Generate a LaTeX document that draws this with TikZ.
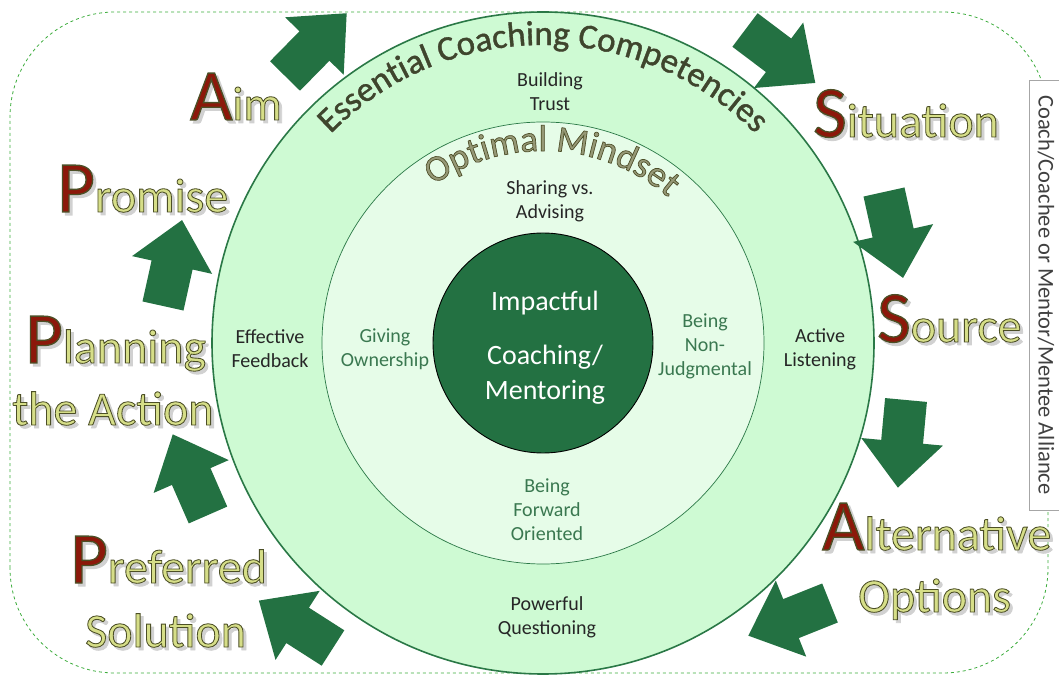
\documentclass[tikz,border=0pt]{standalone}
\usepackage{fontspec}
\setmainfont{Carlito}
\newfontfamily\stagefont[FakeBold=1.8]{Carlito}
\newfontfamily\archfont[FakeBold=1]{Carlito}
\usepackage{xcolor}
\usepackage{tikz}
\usetikzlibrary{decorations.text}
\definecolor{leafgreen}{RGB}{35,113,66}
\definecolor{outerring}{RGB}{206,250,211}
\definecolor{innerring}{RGB}{230,252,232}
\definecolor{ringline}{RGB}{42,120,70}
\definecolor{initred}{RGB}{140,24,10}
\definecolor{wordfill}{RGB}{214,222,136}
\definecolor{archtext}{RGB}{62,70,44}
\definecolor{mindfill}{RGB}{150,152,118}
\definecolor{softgreen}{RGB}{58,120,80}
\definecolor{framegreen}{RGB}{60,172,60}
% dark stroke round the letters (fill keeps the current colour)
\newcommand\wordstroke{\special{pdf:literal direct 0.30 0.31 0.15 RG}}
\newcommand\initsize{\fontsize{73}{80}\selectfont}
\newcommand\restsize{\fontsize{48}{56}\selectfont}
\newcommand\wordshadow[1]{\rlap{\kern3pt\raisebox{-3pt}{\color{black!18}#1}}}
\newcommand\stageword[2]{\wordshadow{\stagefont\initsize #1\restsize #2}%
  {\stagefont\color{initred}\wordstroke\initsize #1}{\stagefont\color{wordfill}\wordstroke\restsize #2}}
\newcommand\plainword[1]{\wordshadow{\stagefont\restsize #1}{\stagefont\color{wordfill}\wordstroke\restsize #1}}
\tikzstyle{stage}=[inner sep=0pt, anchor=base west]
\tikzstyle{ringtext}=[align=center, inner sep=0pt, font=\fontsize{20}{24}\selectfont, text=black!85]
\tikzstyle{mindset}=[ringtext, text=softgreen]
\tikzstyle{turn}=[fill=leafgreen]

\begin{document}
\begin{tikzpicture}[x=1pt, y=1pt]
\useasboundingbox (0,0) rectangle (1059,675);

\draw[framegreen, dashed, line width=0.8pt, rounded corners=105pt] (10,2) rectangle (1048,663);

\coordinate (hub) at (543,332);
\filldraw[fill=outerring, draw=ringline, line width=1.6pt] (hub) circle[radius=331];
\filldraw[fill=innerring, draw=ringline, line width=0.7pt] (hub) circle[radius=221];
\filldraw[fill=leafgreen, draw=black, line width=0.9pt] (hub) circle[radius=110];

% cycle arrows: tail centre / direction
\foreach \tx/\ty/\ang in {285/599/45.5, 745/645/-37, 884/483/-77.5, 906/275/-95.3,
                          830/72/201.8, 333/27/147.4, 208/160/113.6, 163/369/77.5}
  \fill[turn, shift={(\tx,\ty)}, rotate=\ang]
    (0,-21) -- (42,-21) -- (42,-41) -- (88,0) -- (42,41) -- (42,21) -- (0,21) -- cycle;

% ring titles, each with a soft shadow
\path[shift={(2,-2)}, decorate, decoration={text along path, text align=center, text color=black!22,
  text={|\archfont\fontsize{35}{40}\selectfont|Essential Coaching Competencies}}]
  (hub) ++(180:298) arc[start angle=180, end angle=0, radius=298];
\path[decorate, decoration={text along path, text align=center, text color=archtext,
  text={|\archfont\fontsize{35}{40}\selectfont|Essential Coaching Competencies}}]
  (hub) ++(180:298) arc[start angle=180, end angle=0, radius=298];
\path[shift={(1.5,-1.5)}, decorate, decoration={text along path, text align=center, text color=black!18,
  text={|\stagefont\fontsize{37}{40}\selectfont|Optimal Mindset}}]
  (hub) ++(177:192) arc[start angle=177, end angle=-3, radius=192];
\path[decorate, decoration={text along path, text align=center,
  text={|\stagefont\fontsize{37}{40}\selectfont\color{mindfill}\wordstroke|Optimal Mindset}}]
  (hub) ++(177:192) arc[start angle=177, end angle=-3, radius=192];

\node (trust) [ringtext] at (550,583) {Building\\Trust};
\node (sharing) [ringtext] at (550,474) {Sharing vs.\\Advising};
\node (feedback) [ringtext] at (270,326) {Effective\\Feedback};
\node (ownership) [mindset] at (385,326) {Giving\\Ownership};
\node (nonjudge) [mindset] at (705,329) {Being\\Non-\\Judgmental};
\node (listening) [ringtext] at (820,326) {Active\\Listening};
\node (forward) [mindset] at (547,165) {Being\\Forward\\Oriented};
\node (questioning) [ringtext] at (547,58) {Powerful\\Questioning};

\node (impact) [align=center, text=white, inner sep=0pt, font=\fontsize{28}{35}\selectfont] at (545,327)
  {Impactful\\[19pt]Coaching/\\Mentoring};

% stages
\node (aim) [stage] at (190,555) {\stageword{A}{im}};
\node (promise) [stage] at (57,463) {\stageword{P}{romise}};
\node (planning) [stage] at (25,312) {\stageword{P}{lanning}};
\node (action) [stage] at (12,250) {\plainword{the Action}};
\node (preferred) [stage] at (70,92) {\stageword{P}{referred}};
\node (solution) [stage] at (85,28) {\plainword{Solution}};
\node (situation) [stage] at (813,538) {\stageword{S}{ituation}};
\node (source) [stage] at (877,333) {\stageword{S}{ource}};
\node (alternative) [stage] at (822,125) {\stageword{A}{lternative}};
\node (options) [stage] at (858,63) {\plainword{Options}};

\node (alliance) [draw=black!35, fill=white, rotate=-90, minimum width=430pt, minimum height=34pt,
  inner sep=0pt, text=black!75, font=\fontsize{22.5}{26}\selectfont] at (1046,380)
  {Coach/Coachee or Mentor/Mentee Alliance};
\end{tikzpicture}
\end{document}
